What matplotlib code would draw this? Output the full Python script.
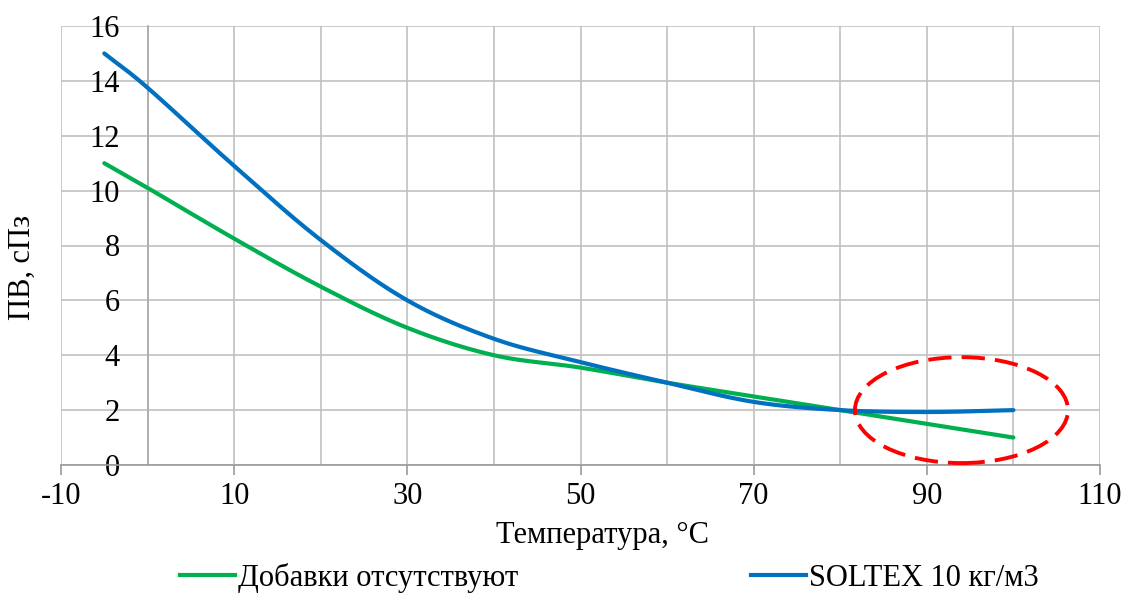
import numpy as np
import matplotlib
matplotlib.use("Agg")
import matplotlib.pyplot as plt
from matplotlib.patches import Ellipse
from matplotlib.lines import Line2D

# ---- data ----
temps = [-5, 0, 10, 20, 30, 40, 50, 60, 70, 80, 90, 100]
no_additives = [11.0, 10.1, 8.25, 6.5, 5.0, 4.0, 3.55, 3.0, 2.5, 2.0, 1.5, 1.0]
soltex = [15.0, 13.75, 10.9, 8.2, 6.0, 4.6, 3.75, 3.0, 2.3, 2.0, 1.93, 2.0]
series_names = ["Добавки отсутствуют", "SOLTEX 10 кг/м3"]
x_ticks = [-10, 10, 30, 50, 70, 90, 110]
y_ticks = [0, 2, 4, 6, 8, 10, 12, 14, 16]

GREEN = "#00B050"
BLUE = "#0070C0"


def smooth(x, y, n=30):
    """Catmull-Rom smoothing for drawing (like Excel smoothed lines)."""
    x = np.asarray(x, float)
    y = np.asarray(y, float)
    P = np.column_stack([x, y])
    P = np.vstack([2 * P[0] - P[1], P, 2 * P[-1] - P[-2]])
    out = []
    t = np.linspace(0, 1, n)[:, None]
    for i in range(1, len(P) - 2):
        p0, p1, p2, p3 = P[i - 1], P[i], P[i + 1], P[i + 2]
        seg = 0.5 * ((2 * p1) + (-p0 + p2) * t + (2 * p0 - 5 * p1 + 4 * p2 - p3) * t ** 2
                     + (-p0 + 3 * p1 - 3 * p2 + p3) * t ** 3)
        out.append(seg if i == 1 else seg[1:])
    out = np.vstack(out)
    return out[:, 0], out[:, 1]


plt.rcParams['font.family'] = ['Liberation Serif', 'DejaVu Serif']
FS = 22

fig = plt.figure(figsize=(11.26, 5.96), dpi=100)
ax = fig.add_axes([61 / 1126, 1 - 465 / 596, (1100 - 61) / 1126, (465 - 26) / 596])

ax.set_xlim(-10, 110)
ax.set_ylim(0, 16)

# grid
for xv in range(-10, 111, 10):
    ax.axvline(xv, color="#C0C0C0", lw=1.2, zorder=0)
for yv in y_ticks:
    ax.axhline(yv, color="#C0C0C0", lw=1.2, zorder=0)

for s in ["top", "right"]:
    ax.spines[s].set_visible(False)
ax.spines["left"].set_position(("data", 0))
ax.spines["left"].set_color("#AAAAAA")
ax.spines["left"].set_linewidth(1.2)
ax.spines["bottom"].set_color("#9A9A9A")
ax.spines["bottom"].set_linewidth(1.2)

ax.set_xticks(x_ticks)
ax.set_xticklabels([str(v) for v in x_ticks])
ax.set_yticks(y_ticks)
ax.set_yticklabels([str(v) for v in y_ticks])
ax.tick_params(axis="x", length=7, width=1.2, color="#9A9A9A", labelsize=FS, pad=5)
ax.tick_params(axis="y", length=0, labelsize=FS, pad=20)

gx, gy = smooth(temps, no_additives)
bx, by = smooth(temps, soltex)
ax.plot(gx, gy, color=GREEN, lw=3, solid_capstyle="round", zorder=3)
ax.plot(bx, by, color=BLUE, lw=3, solid_capstyle="round", zorder=4)

ell = Ellipse((94, 2.0), 24.6, 3.86, fill=False, ec="#FF0000", lw=2.8,
              linestyle=(0, (6, 2.6)), zorder=5)
ax.add_patch(ell)

fig.text(22 / 1126, 1 - 268 / 596, "ПВ, сПз", rotation=90, ha="center", va="center", fontsize=FS)
fig.text(602 / 1126, 1 - 535 / 596, "Температура, °C", ha="center", va="center", fontsize=FS)

handles = [Line2D([], [], color=GREEN, lw=3), Line2D([], [], color=BLUE, lw=3)]
fig.legend(handles, series_names, loc="center left", bbox_to_anchor=(180 / 1126, 1 - 578 / 596),
           ncol=2, frameon=False, fontsize=FS, handlelength=1.8, handletextpad=0.1,
           columnspacing=7.6, borderaxespad=0, borderpad=0)

fig.savefig("out.png", dpi=100)
